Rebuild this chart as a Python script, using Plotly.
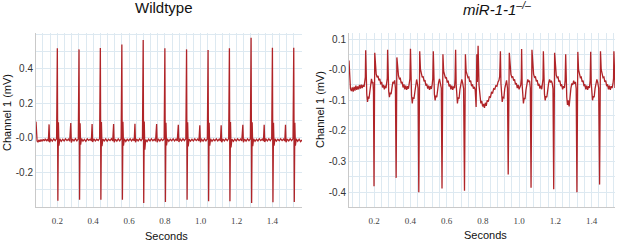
import plotly.graph_objects as go

# ---------------- Wildtype trace (seconds, mV) ----------------
wt_time = [
    0.081, 0.084, 0.087, 0.092, 0.097, 0.103, 0.109, 0.115, 0.121, 0.127, 0.133, 0.139, 0.145, 0.150,
    0.154, 0.157, 0.164, 0.172, 0.180, 0.188, 0.196, 0.200, 0.203, 0.206, 0.209, 0.214, 0.222, 0.230, 0.238, 0.246, 0.254, 0.262, 0.269,
    0.275, 0.278, 0.285, 0.293, 0.301, 0.309, 0.317, 0.321, 0.324, 0.327, 0.330, 0.335, 0.343, 0.351, 0.359, 0.367, 0.375, 0.383, 0.390,
    0.394, 0.397, 0.404, 0.412, 0.420, 0.428, 0.436, 0.440, 0.443, 0.446, 0.449, 0.454, 0.462, 0.470, 0.478, 0.486, 0.494, 0.502, 0.509,
    0.514, 0.517, 0.524, 0.532, 0.540, 0.548, 0.556, 0.560, 0.563, 0.566, 0.569, 0.574, 0.582, 0.590, 0.598, 0.606, 0.614, 0.622, 0.629,
    0.633, 0.636, 0.643, 0.651, 0.659, 0.667, 0.675, 0.679, 0.682, 0.685, 0.688, 0.693, 0.701, 0.709, 0.717, 0.725, 0.733, 0.741, 0.748,
    0.754, 0.757, 0.764, 0.772, 0.780, 0.788, 0.796, 0.800, 0.803, 0.806, 0.809, 0.814, 0.822, 0.830, 0.838, 0.846, 0.854, 0.862, 0.869,
    0.875, 0.878, 0.885, 0.893, 0.901, 0.909, 0.917, 0.921, 0.924, 0.927, 0.930, 0.935, 0.943, 0.951, 0.959, 0.967, 0.975, 0.983, 0.990,
    0.995, 0.998, 1.005, 1.013, 1.021, 1.029, 1.037, 1.041, 1.044, 1.047, 1.050, 1.055, 1.063, 1.071, 1.079, 1.087, 1.095, 1.103, 1.110,
    1.114, 1.117, 1.124, 1.132, 1.140, 1.148, 1.156, 1.160, 1.163, 1.166, 1.169, 1.174, 1.182, 1.190, 1.198, 1.206, 1.214, 1.222, 1.229,
    1.235, 1.238, 1.245, 1.253, 1.261, 1.269, 1.277, 1.281, 1.284, 1.287, 1.290, 1.295, 1.303, 1.311, 1.319, 1.327, 1.335, 1.343, 1.350,
    1.354, 1.357, 1.364, 1.372, 1.380, 1.388, 1.396, 1.400, 1.403, 1.406, 1.409, 1.414, 1.422, 1.430, 1.438, 1.446, 1.454, 1.462, 1.469,
    1.473, 1.476, 1.483, 1.491, 1.499, 1.507, 1.515, 1.519, 1.522, 1.525, 1.528, 1.533, 1.541, 1.549, 1.557, 1.565,
]
wt_mv = [
    0.094, 0.020, -0.018, -0.025, -0.012, -0.022, -0.010, -0.020, -0.008, -0.018, -0.006, -0.016, -0.010, -0.020,
    0.078, -0.025, -0.008, -0.019, -0.006, -0.016, -0.004, 0.519, -0.365, 0.090, -0.045, -0.006, -0.020, -0.008, -0.018, -0.006, -0.016, -0.007, -0.019,
    0.086, -0.027, -0.007, -0.018, -0.005, -0.017, -0.006, 0.513, -0.359, 0.085, -0.040, -0.004, -0.019, -0.009, -0.020, -0.006, -0.015, -0.008, -0.018,
    0.080, -0.024, -0.006, -0.018, -0.008, -0.015, -0.004, 0.521, -0.359, 0.092, -0.048, -0.007, -0.018, -0.006, -0.019, -0.008, -0.016, -0.005, -0.018,
    0.080, -0.026, -0.008, -0.019, -0.006, -0.017, -0.005, 0.542, -0.359, 0.094, -0.046, -0.006, -0.021, -0.008, -0.017, -0.006, -0.018, -0.007, -0.017,
    0.082, -0.025, -0.007, -0.018, -0.006, -0.016, -0.004, 0.567, -0.378, 0.095, -0.068, -0.010, -0.022, -0.008, -0.018, -0.006, -0.017, -0.008, -0.019,
    0.080, -0.026, -0.006, -0.019, -0.007, -0.016, -0.005, 0.519, -0.372, 0.088, -0.044, -0.006, -0.020, -0.008, -0.017, -0.006, -0.018, -0.007, -0.018,
    0.076, -0.024, -0.007, -0.018, -0.006, -0.016, -0.004, 0.513, -0.359, 0.090, -0.050, -0.007, -0.019, -0.008, -0.018, -0.006, -0.016, -0.007, -0.018,
    0.073, -0.025, -0.008, -0.019, -0.006, -0.017, -0.005, 0.509, -0.368, 0.088, -0.045, -0.006, -0.020, -0.008, -0.017, -0.006, -0.018, -0.007, -0.018,
    0.073, -0.026, -0.007, -0.018, -0.006, -0.016, -0.004, 0.519, -0.368, 0.092, -0.055, -0.008, -0.020, -0.007, -0.018, -0.006, -0.016, -0.007, -0.018,
    0.076, -0.025, -0.007, -0.019, -0.006, -0.016, -0.005, 0.581, -0.378, 0.090, -0.048, -0.006, -0.020, -0.008, -0.018, -0.006, -0.016, -0.007, -0.018,
    0.076, -0.024, -0.007, -0.018, -0.006, -0.016, -0.004, 0.523, -0.374, 0.088, -0.046, -0.006, -0.019, -0.008, -0.017, -0.006, -0.016, -0.007, -0.018,
    0.076, -0.025, -0.007, -0.018, -0.006, -0.016, -0.004, 0.523, -0.372, 0.088, -0.045, -0.006, -0.020, -0.008, -0.022, -0.012,
]

# ---------------- miR-1-1 -/- trace (seconds, mV) ----------------
ko_time = [
    0.062, 0.064, 0.067, 0.070, 0.075, 0.080, 0.085, 0.090, 0.095, 0.100, 0.105, 0.110, 0.115, 0.120, 0.125, 0.130, 0.135, 0.140, 0.145, 0.149, 0.152,
    0.154, 0.157, 0.160, 0.164, 0.168, 0.172, 0.177, 0.182, 0.186, 0.190, 0.194, 0.197, 0.200, 0.204, 0.208, 0.212, 0.217, 0.222, 0.227, 0.232, 0.237, 0.242, 0.247, 0.252, 0.257, 0.262, 0.266, 0.270, 0.273,
    0.275, 0.278, 0.281, 0.285, 0.289, 0.294, 0.299, 0.304, 0.309, 0.314, 0.318, 0.322, 0.326, 0.330, 0.335, 0.340, 0.345, 0.350, 0.355, 0.360, 0.365, 0.370, 0.375, 0.380, 0.385, 0.390, 0.395, 0.398,
    0.401, 0.404, 0.407, 0.411, 0.415, 0.420, 0.425, 0.430, 0.435, 0.439, 0.443, 0.447, 0.452, 0.456, 0.461, 0.466, 0.471, 0.476, 0.481, 0.486, 0.491, 0.496, 0.501, 0.506, 0.511, 0.516, 0.521, 0.524,
    0.527, 0.530, 0.533, 0.537, 0.541, 0.546, 0.551, 0.556, 0.561, 0.566, 0.571, 0.575, 0.580, 0.584, 0.589, 0.594, 0.599, 0.604, 0.609, 0.614, 0.619, 0.624, 0.629, 0.634, 0.639, 0.644, 0.647,
    0.650, 0.653, 0.656, 0.660, 0.664, 0.669, 0.674, 0.679, 0.684, 0.689, 0.694, 0.699, 0.704, 0.708, 0.713, 0.718, 0.723, 0.728, 0.733, 0.738, 0.743, 0.748, 0.753,
    0.758, 0.763, 0.767, 0.770, 0.774, 0.779, 0.784, 0.789, 0.794, 0.799, 0.804, 0.809, 0.814, 0.819, 0.824, 0.830, 0.836, 0.842, 0.848, 0.854, 0.860, 0.866, 0.872, 0.878, 0.884, 0.889, 0.893,
    0.897, 0.900, 0.903, 0.907, 0.911, 0.916, 0.921, 0.926, 0.931, 0.936, 0.940, 0.946, 0.950, 0.955, 0.960, 0.965, 0.970, 0.975, 0.980, 0.985, 0.990, 0.995, 1.000, 1.005, 1.009, 1.012,
    1.014, 1.017, 1.020, 1.024, 1.028, 1.033, 1.038, 1.043, 1.048, 1.053, 1.058, 1.062, 1.066, 1.071, 1.075, 1.080, 1.085, 1.090, 1.095, 1.100, 1.105, 1.110, 1.115, 1.120, 1.125, 1.129, 1.132,
    1.134, 1.137, 1.140, 1.144, 1.148, 1.153, 1.158, 1.163, 1.168, 1.173, 1.178, 1.183, 1.187, 1.191, 1.196, 1.200, 1.205, 1.210, 1.215, 1.220, 1.225, 1.230, 1.235, 1.240, 1.245, 1.250, 1.254,
    1.257, 1.260, 1.263, 1.267, 1.271, 1.276, 1.281, 1.286, 1.291, 1.296, 1.301, 1.306, 1.311, 1.315, 1.319, 1.324, 1.328, 1.333, 1.338, 1.343, 1.348, 1.353, 1.358, 1.363, 1.368, 1.373, 1.378, 1.383, 1.388, 1.392,
    1.395, 1.398, 1.401, 1.405, 1.409, 1.414, 1.419, 1.424, 1.429, 1.434, 1.439, 1.444, 1.449, 1.453, 1.458, 1.463, 1.468, 1.473, 1.478, 1.483, 1.488, 1.493, 1.498, 1.503, 1.508, 1.513, 1.518, 1.521,
    1.523, 1.526, 1.529,
]
ko_mv = [
    0.030, -0.010, -0.045, -0.062, -0.070, -0.058, -0.072, -0.056, -0.068, -0.052, -0.066, -0.055, -0.064, -0.050, -0.062, -0.049, -0.060, -0.050, -0.056, -0.040, -0.025,
    0.063, -0.045, -0.080, -0.105, -0.088, -0.095, -0.065, -0.045, -0.030, -0.042, -0.040, -0.070, -0.380, 0.055, 0.000, -0.015, -0.025, -0.020, -0.035, -0.030, -0.048, -0.040, -0.058, -0.050, -0.064, -0.052, -0.060, -0.045, -0.028,
    0.065, -0.040, -0.070, -0.090, -0.075, -0.080, -0.058, -0.040, -0.045, -0.035, -0.060, -0.353, 0.040, -0.005, -0.020, -0.030, -0.028, -0.045, -0.040, -0.058, -0.048, -0.064, -0.052, -0.066, -0.054, -0.062, -0.045, -0.030,
    0.068, -0.050, -0.085, -0.110, -0.090, -0.095, -0.066, -0.045, -0.032, -0.045, -0.060, -0.400, 0.060, 0.002, -0.015, -0.025, -0.022, -0.038, -0.034, -0.052, -0.046, -0.062, -0.052, -0.066, -0.054, -0.063, -0.048, -0.030,
    0.060, -0.045, -0.080, -0.100, -0.085, -0.090, -0.062, -0.042, -0.030, -0.042, -0.060, -0.388, 0.050, -0.005, -0.020, -0.028, -0.025, -0.042, -0.036, -0.055, -0.048, -0.064, -0.052, -0.066, -0.055, -0.060, -0.030,
    0.065, -0.048, -0.085, -0.110, -0.090, -0.095, -0.064, -0.044, -0.032, -0.044, -0.062, -0.395, 0.050, -0.005, -0.018, -0.026, -0.024, -0.040, -0.036, -0.054, -0.048, -0.062, -0.056,
    -0.066, -0.122, 0.050, -0.040, 0.078, -0.050, -0.090, -0.110, -0.102, -0.120, -0.112, -0.125, -0.108, -0.118, -0.100, -0.104, -0.088, -0.090, -0.074, -0.076, -0.062, -0.064, -0.052, -0.054, -0.040, -0.035, -0.022,
    0.060, -0.045, -0.080, -0.105, -0.090, -0.092, -0.062, -0.042, -0.035, -0.060, -0.342, 0.055, -0.002, -0.015, -0.025, -0.022, -0.036, -0.032, -0.048, -0.044, -0.060, -0.050, -0.064, -0.053, -0.050, -0.030,
    0.067, -0.050, -0.085, -0.110, -0.092, -0.096, -0.066, -0.046, -0.032, -0.040, -0.036, -0.060, -0.385, 0.065, 0.005, -0.015, -0.025, -0.022, -0.038, -0.034, -0.052, -0.046, -0.062, -0.052, -0.064, -0.050, -0.030,
    0.060, -0.045, -0.080, -0.100, -0.086, -0.090, -0.062, -0.044, -0.032, -0.042, -0.036, -0.045, -0.062, -0.390, 0.055, -0.002, -0.018, -0.026, -0.024, -0.040, -0.036, -0.054, -0.048, -0.064, -0.054, -0.060, -0.035,
    0.050, -0.050, -0.090, -0.115, -0.100, -0.120, -0.085, -0.060, -0.045, -0.050, -0.036, -0.046, -0.040, -0.062, -0.400, 0.058, 0.000, -0.016, -0.026, -0.024, -0.040, -0.036, -0.054, -0.048, -0.064, -0.052, -0.066, -0.054, -0.060, -0.035,
    0.058, -0.045, -0.080, -0.100, -0.086, -0.090, -0.062, -0.044, -0.032, -0.042, -0.060, -0.375, 0.060, 0.000, -0.016, -0.026, -0.024, -0.040, -0.036, -0.054, -0.048, -0.064, -0.052, -0.066, -0.054, -0.060, -0.045, -0.028,
    0.060, -0.030, -0.060,
]

# ---------------- tick labels ----------------
wt_y_ticks = [-0.2, 0.0, 0.2, 0.4]
wt_y_labels = ["-0.2", "-0.0", "0.2", "0.4"]
ko_y_ticks = [-0.4, -0.3, -0.2, -0.1, 0.0, 0.1]
ko_y_labels = ["-0.4", "-0.3", "-0.2", "-0.1", "-0.0", "0.1"]
x_ticks = [0.2, 0.4, 0.6, 0.8, 1.0, 1.2, 1.4]
x_labels = ["0.2", "0.4", "0.6", "0.8", "1.0", "1.2", "1.4"]

W, H = 617, 243
LINE = "#b02428"
GRID = "#dde9f1"
AXL = "#c9c9c9"
SANS = "Liberation Sans, Arial, sans-serif"
SERIF = "Liberation Serif, Times New Roman, serif"

fig = go.Figure()
fig.add_trace(go.Scatter(x=wt_time, y=wt_mv, mode="lines", xaxis="x", yaxis="y",
                         line=dict(color=LINE, width=1.3), showlegend=False, hoverinfo="skip"))
fig.add_trace(go.Scatter(x=ko_time, y=ko_mv, mode="lines", xaxis="x2", yaxis="y2",
                         line=dict(color=LINE, width=1.3), showlegend=False, hoverinfo="skip"))

def xax(domain, rng, anchor):
    return dict(domain=domain, range=rng, anchor=anchor, tickmode="array", tickvals=x_ticks,
                ticktext=x_labels, showgrid=True, gridcolor=GRID, gridwidth=1,
                minor=dict(tickmode="linear", tick0=0, dtick=0.04, showgrid=True, gridcolor=GRID, gridwidth=1),
                showline=True, linecolor=AXL, linewidth=1, zeroline=False,
                ticks="outside", ticklen=5, tickcolor="rgba(0,0,0,0)",
                tickfont=dict(family=SERIF, size=9, color="#444"))

def yax(domain, rng, anchor, vals, labels, mdt):
    return dict(domain=domain, range=rng, anchor=anchor, tickmode="array", tickvals=vals,
                ticktext=labels, showgrid=True, gridcolor=GRID, gridwidth=1,
                minor=dict(tickmode="linear", tick0=0, dtick=mdt, showgrid=True, gridcolor=GRID, gridwidth=1),
                showline=True, linecolor=AXL, linewidth=1, zeroline=False, ticks="",
                tickfont=dict(family=SANS, size=10, color="#333"))

ydom = [36 / H, 1 - 33 / H]
fig.update_layout(
    width=W, height=H, margin=dict(l=0, r=0, t=0, b=0),
    paper_bgcolor="white", plot_bgcolor="white",
    xaxis=xax([36 / W, 302 / W], [0.081, 1.565], "y"),
    yaxis=yax(ydom, [-0.401, 0.608], "x", wt_y_ticks, wt_y_labels, 0.1),
    xaxis2=xax([349 / W, 615 / W], [0.062, 1.529], "y2"),
    yaxis2=yax(ydom, [-0.448, 0.1196], "x2", ko_y_ticks, ko_y_labels, 0.05),
)

def ann(text, px, py, size, angle=0, **kw):
    fig.add_annotation(text=text, x=px / W, y=1 - py / H, xref="paper", yref="paper",
                       showarrow=False, textangle=angle, xanchor="center", yanchor="middle",
                       font=dict(family=SANS, size=size, color="#111"), **kw)

ann("Wildtype", 164, 8, 15)
ann("<i>miR-1-1</i><sup><i>–/–</i></sup>", 497, 9, 15)
ann("Channel 1 (mV)", 7, 113, 11, angle=-90)
ann("Channel 1 (mV)", 320, 110, 11, angle=-90)
ann("Seconds", 166, 236, 11)
ann("Seconds", 485, 235, 11)

fig.write_html("out.html", config={"displayModeBar": False},
               post_script="document.body.style.margin='0px';document.body.style.overflow='hidden';")
